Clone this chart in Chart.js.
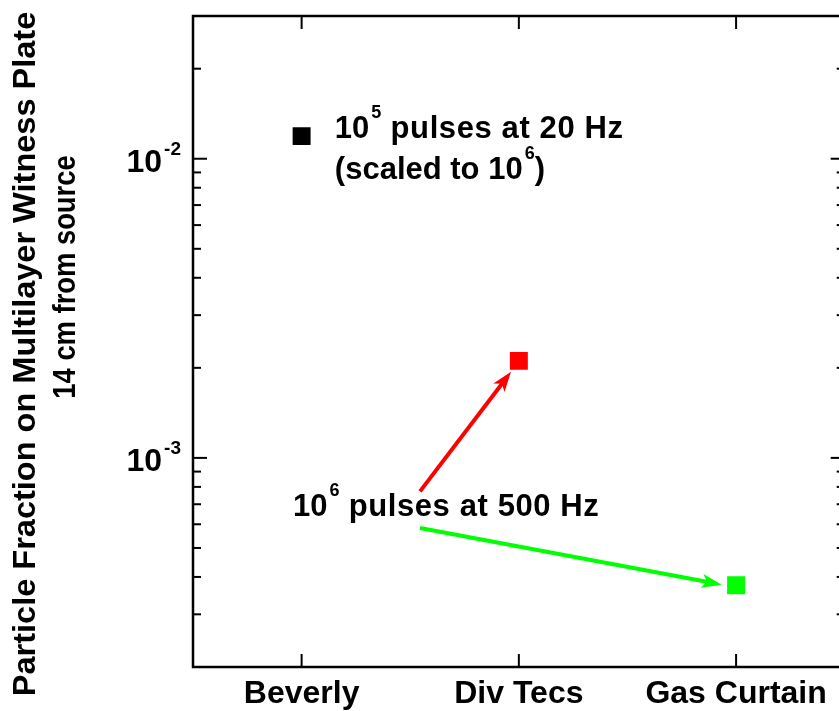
<!DOCTYPE html>
<html>
<head>
<meta charset="utf-8">
<script src="https://cdn.jsdelivr.net/npm/chart.js@4.4.1/dist/chart.umd.min.js"></script>
<style>
  html, body { margin: 0; padding: 0; background: #fff; overflow: hidden; }
  #wrap { width: 839px; height: 711px; overflow: hidden; }
</style>
</head>
<body>
<div id="wrap"><canvas id="chart" width="860" height="711"></canvas></div>
<script>
const categories = ['Beverly', 'Div Tecs', 'Gas Curtain'];
const particleFraction = [0.0119, 0.00211, 0.000375];
const yRange = [2e-4, 3e-2];
const yMajorTicks = [1e-3, 1e-2];
const pointColors = ['#000000', '#ff0000', '#00ff00'];

// notes + arrows, placed in data units (x = category index, y = fraction)
const textNotes = [
  { x: 0.153, y: 0.01175, base: '10', sup: '5', rest: ' pulses at 20 Hz' },
  { x: 0.153, y: 0.00857, base: '(scaled to 10', sup: '6', rest: ')' },
  { x: -0.04, y: 6.4e-4, base: '10', sup: '6', rest: ' pulses at 500 Hz' }
];
const arrows = [
  { from: [0.545, 7.73e-4], to: [0.964, 1.94e-3], color: '#ff0000' },
  { from: [0.545, 5.83e-4], to: [1.934, 3.77e-4], color: '#00ff00' }
];

const FONT = '"Liberation Sans", Arial, Helvetica, sans-serif';

function supText(ctx, x, y, base, sup, rest, size, supSize, rise, spacing) {
  ctx.font = `bold ${size}px ${FONT}`;
  ctx.letterSpacing = '0px';
  ctx.fillText(base, x, y);
  x += ctx.measureText(base).width + 2;
  ctx.font = `bold ${supSize}px ${FONT}`;
  ctx.fillText(sup, x, y - rise);
  x += ctx.measureText(sup).width;
  if (rest) {
    ctx.font = `bold ${size}px ${FONT}`;
    ctx.letterSpacing = spacing || '0px';
    ctx.fillText(rest, x, y);
  }
  ctx.letterSpacing = '0px';
}

function drawArrow(ctx, x0, y0, x1, y1, color) {
  const ang = Math.atan2(y1 - y0, x1 - x0);
  const headLen = 20, headW = 7;
  ctx.strokeStyle = color;
  ctx.fillStyle = color;
  ctx.lineWidth = 4;
  ctx.beginPath();
  ctx.moveTo(x0, y0);
  ctx.lineTo(x1 - Math.cos(ang) * (headLen - 6), y1 - Math.sin(ang) * (headLen - 6));
  ctx.stroke();
  ctx.save();
  ctx.translate(x1, y1);
  ctx.rotate(ang);
  ctx.beginPath();
  ctx.moveTo(0, 0);
  ctx.lineTo(-headLen, -headW);
  ctx.lineTo(-headLen + 5, 0);
  ctx.lineTo(-headLen, headW);
  ctx.closePath();
  ctx.fill();
  ctx.restore();
}

function line(ctx, x0, y0, x1, y1) {
  ctx.beginPath();
  ctx.moveTo(x0, y0);
  ctx.lineTo(x1, y1);
  ctx.stroke();
}

function vText(ctx, text, cx, cy, size, stretch) {
  ctx.save();
  ctx.translate(cx, cy);
  ctx.rotate(-Math.PI / 2);
  ctx.scale(stretch, 1);
  ctx.font = `bold ${size}px ${FONT}`;
  ctx.textAlign = 'center';
  ctx.fillText(text, 0, 0);
  ctx.restore();
}

const framePlugin = {
  id: 'frame',
  afterDraw(chart) {
    const { ctx, chartArea: a, scales: { x, y } } = chart;
    ctx.save();

    arrows.forEach(ar => {
      drawArrow(ctx,
        x.getPixelForValue(ar.from[0]), y.getPixelForValue(ar.from[1]),
        x.getPixelForValue(ar.to[0]), y.getPixelForValue(ar.to[1]), ar.color);
    });

    ctx.fillStyle = '#000';
    ctx.strokeStyle = '#000';
    ctx.textBaseline = 'alphabetic';
    ctx.textAlign = 'left';
    textNotes.forEach(n => {
      supText(ctx, x.getPixelForValue(n.x), y.getPixelForValue(n.y), n.base, n.sup, n.rest, 31, 18, 20, '0.6px');
    });

    // frame
    ctx.lineWidth = 2.5;
    ctx.strokeRect(a.left, a.top, a.right - a.left, a.bottom - a.top);

    // log ticks, inward on left and right
    ctx.lineWidth = 2;
    const e0 = Math.floor(Math.log10(yRange[0])), e1 = Math.ceil(Math.log10(yRange[1]));
    for (let e = e0; e <= e1; e++) {
      for (let m = 1; m <= 9; m++) {
        const v = m * Math.pow(10, e);
        if (v < yRange[0] * 0.999 || v > yRange[1] * 1.001) continue;
        const py = y.getPixelForValue(v);
        const len = m === 1 ? 14 : 8;
        line(ctx, a.left, py, a.left + len, py);
        line(ctx, a.right, py, a.right - len, py);
      }
    }

    // major labels 10^n
    yMajorTicks.forEach(v => {
      const py = y.getPixelForValue(v);
      const exp = String(Math.round(Math.log10(v)));
      ctx.font = `bold 32px ${FONT}`;
      const w1 = ctx.measureText('10').width;
      ctx.font = `bold 19px ${FONT}`;
      const w2 = ctx.measureText(exp).width;
      supText(ctx, a.left - 13 - w2 - w1 - 1, py + 13, '10', exp, '', 32, 19, 17);
    });

    // category ticks top and bottom
    categories.forEach((c, i) => {
      const px = x.getPixelForValue(i);
      line(ctx, px, a.bottom, px, a.bottom - 13);
      line(ctx, px, a.top, px, a.top + 13);
    });

    // y title, two lines
    vText(ctx, 'Particle Fraction on Multilayer Witness Plate', 35, 354, 32, 1.016);
    vText(ctx, '14 cm from source', 75, 277, 32, 0.855);

    ctx.restore();
  }
};

new Chart(document.getElementById('chart'), {
  type: 'line',
  data: {
    labels: categories,
    datasets: [{
      data: particleFraction,
      showLine: false,
      pointStyle: 'rect',
      pointRadius: 12.7,
      pointHoverRadius: 12.7,
      pointBackgroundColor: pointColors,
      pointBorderWidth: 0,
      borderWidth: 0
    }]
  },
  options: {
    responsive: false,
    animation: false,
    events: [],
    layout: { padding: { top: 16, right: 15.3, left: 0, bottom: 0 } },
    plugins: { legend: { display: false }, tooltip: { enabled: false } },
    scales: {
      x: {
        type: 'category',
        offset: true,
        grid: { display: false, drawTicks: false },
        border: { display: false },
        ticks: {
          color: '#000',
          font: { family: FONT, size: 32, weight: 'bold' },
          padding: 8,
          maxRotation: 0,
          autoSkip: false
        },
        afterFit: s => { s.height = 44; }
      },
      y: {
        type: 'logarithmic',
        min: yRange[0],
        max: yRange[1],
        grid: { display: false, drawTicks: false },
        border: { display: false },
        ticks: { display: false },
        afterFit: s => { s.width = 193; }
      }
    }
  },
  plugins: [framePlugin]
});
</script>
</body>
</html>
